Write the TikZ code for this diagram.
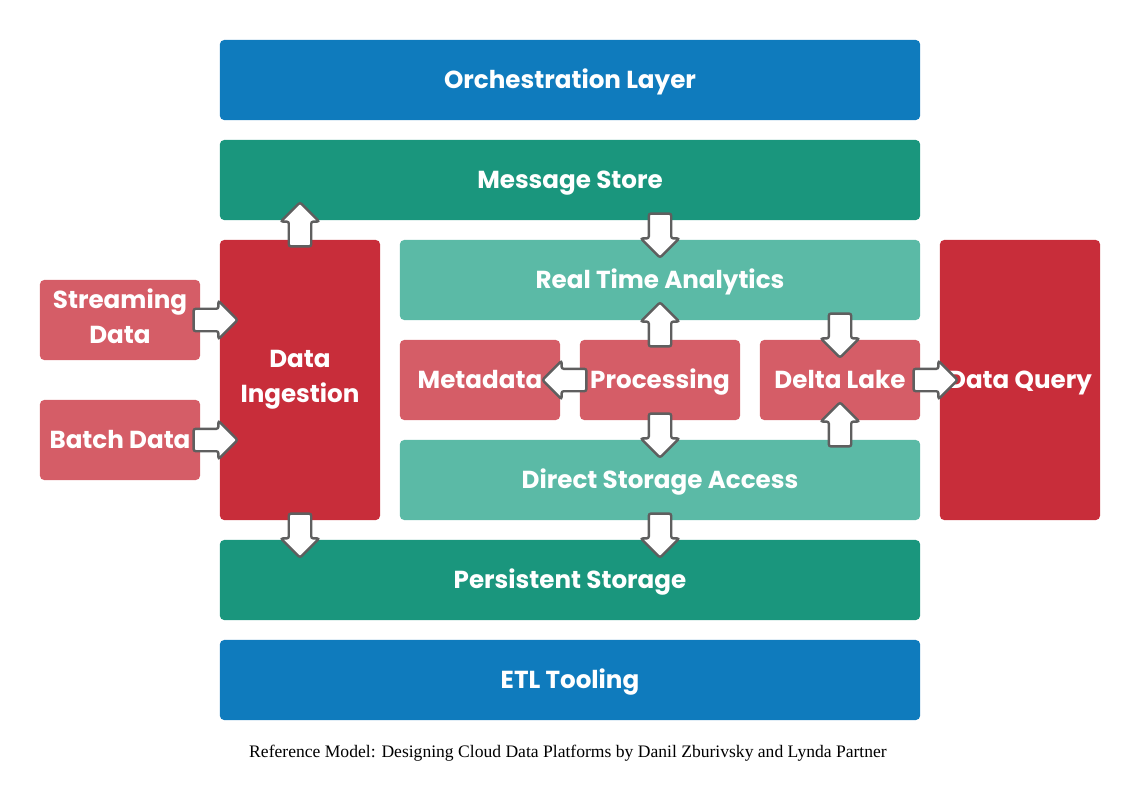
\documentclass[tikz,border=0pt]{standalone}
\usepackage{fontspec}
\setmainfont{Poppins}
\newfontfamily\capfont{Liberation Serif}
\usetikzlibrary{shapes.arrows}
\definecolor{layerblue}{HTML}{0F7BBD}
\definecolor{storeteal}{HTML}{1A967D}
\definecolor{lightteal}{HTML}{5BBAA6}
\definecolor{ingestred}{HTML}{C82D3A}
\definecolor{softred}{HTML}{D55D67}
\definecolor{arrowgray}{HTML}{5F5F5F}
\tikzset{
  x=0.025cm, y=-0.025cm,
  box/.style={rounded corners=3pt, text=white, align=center, inner sep=0pt,
    font=\bfseries\fontsize{17.5}{24.5}\selectfont,
    execute at begin node={\rule{0pt}{1.02em}},
    execute at end node={\rule[-0.3em]{0pt}{0pt}}},
  wide/.style={box, minimum width=17.5cm, minimum height=2cm},
  half/.style={box, minimum width=13cm, minimum height=2cm},
  small/.style={box, minimum width=4cm, minimum height=2cm},
  tall/.style={box, minimum width=4cm, minimum height=7cm},
  flow/.style={single arrow, draw=arrowgray, fill=white, line width=1.7pt,
    rounded corners=1.5pt, inner sep=0.25cm, single arrow head extend=0.2cm,
    minimum height=1.1cm, midway, sloped, allow upside down},
}

\begin{document}
\begin{tikzpicture}
	\useasboundingbox (0,0) rectangle (1140,802);

	% layers
	\node[wide, fill=layerblue] (orch) at (570,80) {Orchestration Layer};
	\node[wide, fill=storeteal] (msg) at (570,180) {Message Store};
	\node[tall, fill=ingestred] (ing) at (300,380) {Data\\Ingestion};
	\node[half, fill=lightteal] (rta) at (660,280) {Real Time Analytics};
	\node[small, fill=softred] (meta) at (480,380) {Metadata};
	\node[small, fill=softred] (proc) at (660,380) {Processing};
	\node[small, fill=softred] (delta) at (840,380) {Delta Lake};
	\node[half, fill=lightteal] (dsa) at (660,480) {Direct Storage Access};
	\node[tall, fill=ingestred] (query) at (1020,380) {Data Query};
	\node[small, fill=softred] (stream) at (120,320) {Streaming\\Data};
	\node[small, fill=softred] (batch) at (120,440) {Batch Data};
	\node[wide, fill=storeteal] (persist) at (570,580) {Persistent Storage};
	\node[wide, fill=layerblue] (etl) at (570,680) {ETL Tooling};
	\node[font=\capfont\fontsize{12.5}{15}\selectfont] (cap) at (568,753)
		{Reference Model: Designing Cloud Data Platforms by Danil Zburivsky and Lynda Partner};

	% flows
	\path (ing.north) -- (msg.south -| ing.north) node[flow] {};
	\path (msg.south -| rta.north) -- (rta.north) node[flow] {};
	\path (stream.east) -- (stream.east -| ing.west) node[flow] {};
	\path (batch.east) -- (batch.east -| ing.west) node[flow] {};
	\path (proc.north) -- (rta.south -| proc.north) node[flow] {};
	\path (rta.south -| delta.north) -- (delta.north) node[flow] {};
	\path (proc.west) -- (meta.east) node[flow] {};
	\path (delta.east) -- (query.west) node[flow] {};
	\path (proc.south) -- (dsa.north -| proc.south) node[flow] {};
	\path (dsa.north -| delta.south) -- (delta.south) node[flow] {};
	\path (ing.south) -- (persist.north -| ing.south) node[flow] {};
	\path (dsa.south) -- (persist.north -| dsa.south) node[flow] {};

\end{tikzpicture}
\end{document}
